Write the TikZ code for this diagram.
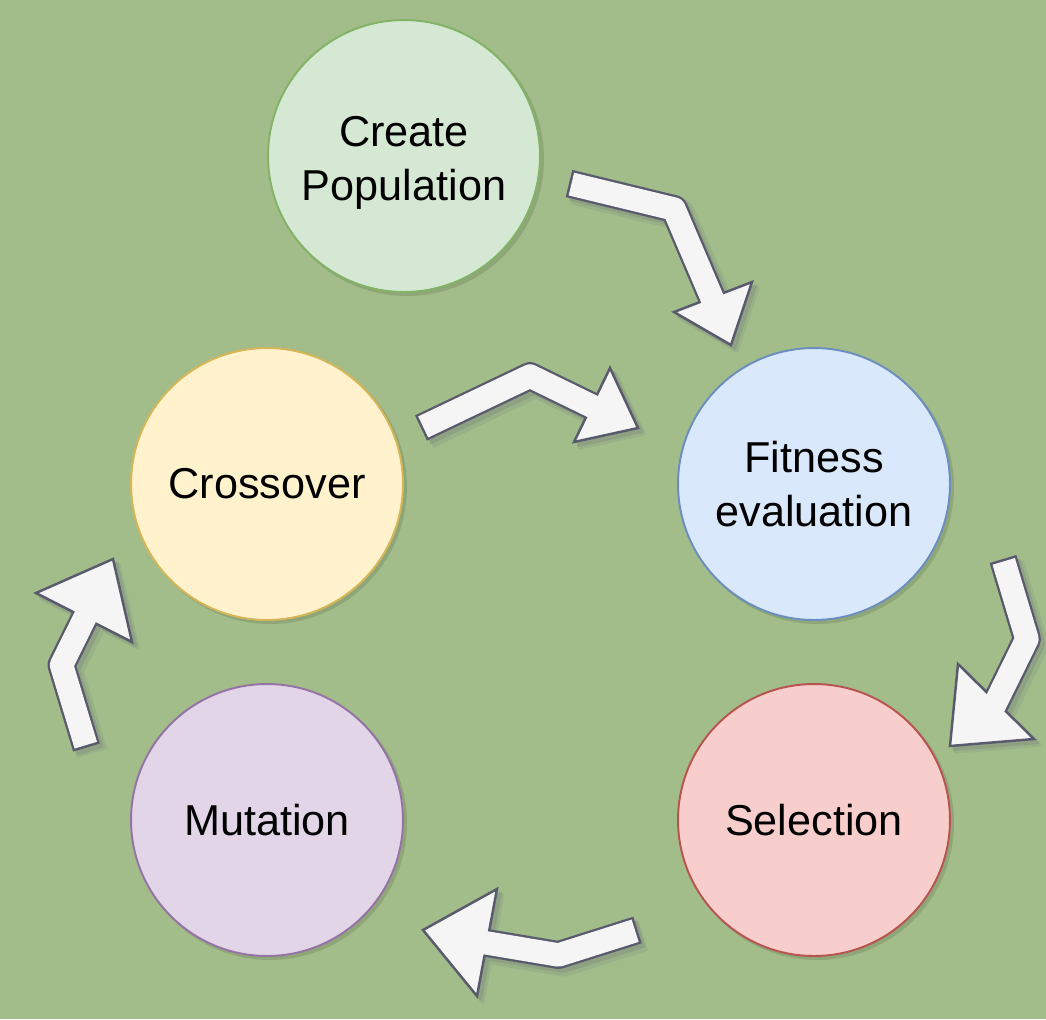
\documentclass[tikz,border=0pt]{standalone}
\usepackage{fontspec}
\setmainfont{Liberation Sans}
\usetikzlibrary{calc}

\definecolor{bg}{HTML}{A2BD8A}
\definecolor{arrowfill}{HTML}{F5F5F5}
\definecolor{arrowline}{HTML}{5A5A6E}
\definecolor{greenfill}{HTML}{D5E8D4}
\definecolor{greenline}{HTML}{82B366}
\definecolor{bluefill}{HTML}{DAE8FC}
\definecolor{blueline}{HTML}{6C8EBF}
\definecolor{redfill}{HTML}{F8CECC}
\definecolor{redline}{HTML}{B85450}
\definecolor{purplefill}{HTML}{E1D5E7}
\definecolor{purpleline}{HTML}{9673A6}
\definecolor{yellowfill}{HTML}{FFF2CC}
\definecolor{yellowline}{HTML}{D6B656}

\begin{document}
\begin{tikzpicture}[x=0.02cm, y=-0.02cm,
	stage/.style={circle, draw, line width=1.1pt, minimum size=5.44cm, inner sep=0pt,
		align=center, font=\fontsize{24.6}{30.6}\selectfont},
	softshadow/.style={fill=bg!88!black},
	shaftout/.style={draw=arrowline, line width=15.9pt, line join=round, shorten >=-3.4pt},
	shaftin/.style={draw=arrowfill, line width=13.3pt, line join=round, shorten <=1.4pt, shorten >=-3.4pt},
	headtip/.style={fill=arrowfill, draw=arrowline, line width=1.4pt, line join=miter},
	shadowfar/.style={draw=bg!88!arrowline, fill=bg!88!arrowline, line join=round,
		transform canvas={xshift=3.2pt, yshift=-3.2pt}},
	shadownear/.style={draw=bg!72!arrowline, fill=bg!72!arrowline, line join=round,
		transform canvas={xshift=2.2pt, yshift=-2.2pt}}]

	\fill [bg] (0,0) rectangle (1046,1019);
	\useasboundingbox (0,0) rectangle (1046,1019);

	% circle centres
	\coordinate (c-create) at (404,156);
	\coordinate (c-fitness) at (814,484);
	\coordinate (c-select) at (814,820);
	\coordinate (c-mutate) at (267,820);
	\coordinate (c-cross) at (267,484);

	\foreach \c in {create,fitness,select,mutate,cross}
		\fill [softshadow] ([shift={(3,3)}]c-\c) circle (2.74cm);

	\node [stage, fill=greenfill, draw=greenline] (create) at (c-create) {\rule{0pt}{25pt}Create\\Population};
	\node [stage, fill=bluefill, draw=blueline] (fitness) at (c-fitness) {Fitness\\evaluation};
	\node [stage, fill=redfill, draw=redline] (select) at (c-select) {Selection};
	\node [stage, fill=purplefill, draw=purpleline] (mutate) at (c-mutate) {Mutation};
	\node [stage, fill=yellowfill, draw=yellowline] (cross) at (c-cross) {Crossover};

	% block arrows: t tail, b bend, h head base, p tip, l/r wings
	\coordinate (a1-t) at (569,183.5); \coordinate (a1-b) at (674,209);
	\coordinate (a1-h) at (712,298);   \coordinate (a1-p) at (731,345);
	\coordinate (a1-l) at (674,312);   \coordinate (a1-r) at (752,282);

	\coordinate (a2-t) at (421,428);   \coordinate (a2-b) at (530,376);
	\coordinate (a2-h) at (591.5,406); \coordinate (a2-p) at (638,428);
	\coordinate (a2-l) at (610,368);   \coordinate (a2-r) at (574,442);

	\coordinate (a3-t) at (1003,559);  \coordinate (a3-b) at (1027,639);
	\coordinate (a3-h) at (996.5,701); \coordinate (a3-p) at (950,746);
	\coordinate (a3-l) at (958,664);   \coordinate (a3-r) at (1034,739);

	\coordinate (a4-t) at (637.5,930); \coordinate (a4-b) at (558.5,955);
	\coordinate (a4-h) at (487,943);   \coordinate (a4-p) at (423,930);
	\coordinate (a4-l) at (497,889);   \coordinate (a4-r) at (477,996);

	\coordinate (a5-t) at (86.5,747.5); \coordinate (a5-b) at (61.5,665);
	\coordinate (a5-h) at (84.5,618.5); \coordinate (a5-p) at (113,559);
	\coordinate (a5-l) at (36,593);     \coordinate (a5-r) at (132,642);

	\foreach \a in {a1,a2,a3,a4,a5} {
		\draw [shadowfar, line width=18pt, fill=none, shorten >=-3.4pt] (\a-t) -- (\a-b) -- (\a-h);
		\filldraw [shadowfar, line width=2.2pt] (\a-l) -- (\a-p) -- (\a-r) -- cycle;
		\draw [shadownear, line width=15.9pt, fill=none, shorten >=-3.4pt] (\a-t) -- (\a-b) -- (\a-h);
		\filldraw [shadownear, line width=1.3pt] (\a-l) -- (\a-p) -- (\a-r) -- cycle;
		\draw [shaftout] (\a-t) -- (\a-b) -- (\a-h);
		\filldraw [headtip] (\a-l) -- (\a-p) -- (\a-r) -- cycle;
		\draw [shaftin] (\a-t) -- (\a-b) -- (\a-h);
	}
\end{tikzpicture}
\end{document}
